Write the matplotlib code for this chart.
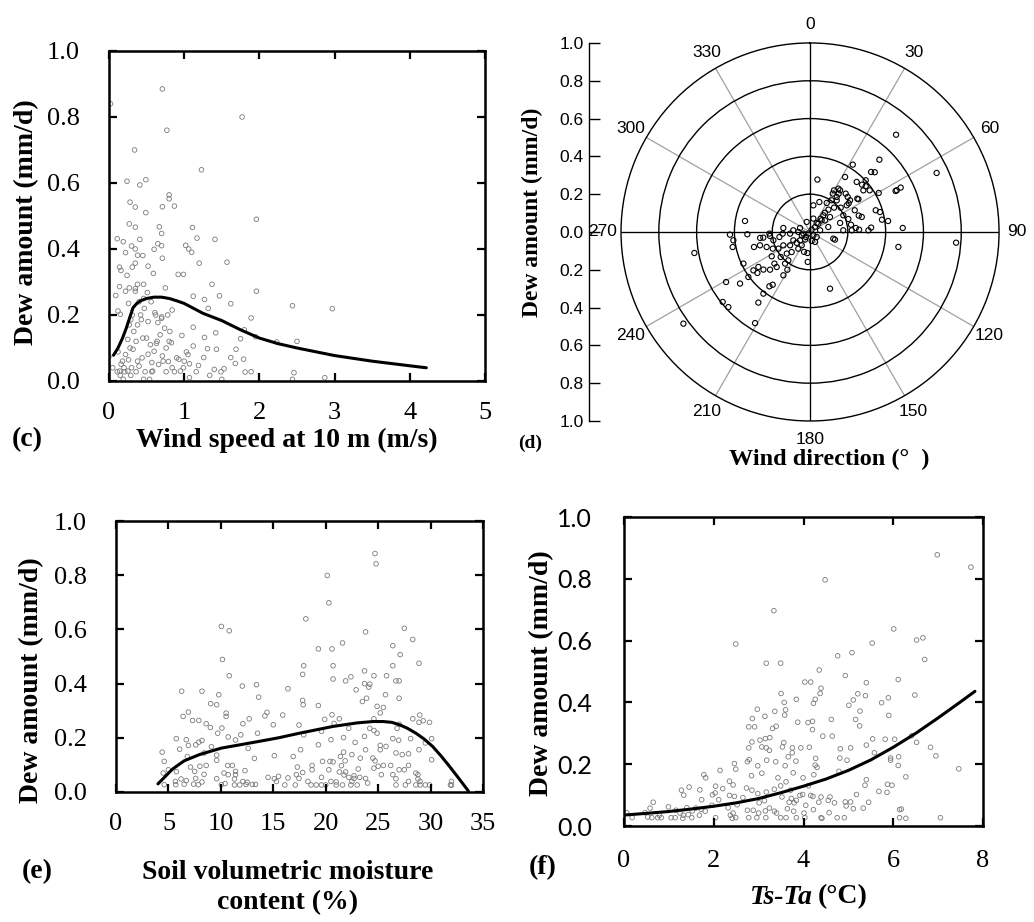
import matplotlib
matplotlib.use("Agg")
import matplotlib.pyplot as plt
import numpy as np

plt.rcParams['font.family'] = ['Liberation Serif', 'DejaVu Serif']

# (c) wind speed at 10 m (m/s) vs dew amount (mm/d)
wind = np.array([
    (0.02, 0.84), (0.71, 0.885), (1.77, 0.80), (0.77, 0.76), (0.34, 0.70), (1.23, 0.64), (0.49, 0.61),
    (0.24, 0.605), (0.41, 0.594), (0.80, 0.564), (0.80, 0.552), (0.28, 0.542), (0.35, 0.527), (0.71, 0.528),
    (0.87, 0.53), (0.49, 0.51), (1.96, 0.49), (0.27, 0.476), (0.35, 0.466), (0.67, 0.467), (1.11, 0.465),
    (0.70, 0.447), (0.11, 0.431), (0.41, 0.429), (0.19, 0.422), (1.17, 0.433), (1.41, 0.429), (0.65, 0.416),
    (0.70, 0.41), (0.30, 0.409), (1.02, 0.411), (0.35, 0.40), (0.45, 0.38), (1.06, 0.40), (1.10, 0.39),
    (0.60, 0.399), (0.22, 0.389), (0.71, 0.372), (0.38, 0.381), (1.57, 0.36), (1.20, 0.357), (0.35, 0.357),
    (0.14, 0.345), (0.31, 0.345), (0.52, 0.348), (0.16, 0.335), (0.59, 0.326), (0.24, 0.32), (0.92, 0.323),
    (0.99, 0.323), (1.37, 0.293), (0.38, 0.293), (0.46, 0.293), (0.14, 0.286), (0.27, 0.282), (0.75, 0.282),
    (0.22, 0.272), (0.35, 0.272), (1.96, 0.272), (0.09, 0.259), (1.12, 0.257), (1.47, 0.258), (0.51, 0.268),
    (1.27, 0.247), (0.26, 0.235), (1.62, 0.234), (2.44, 0.228), (2.97, 0.219), (1.32, 0.22), (0.12, 0.212),
    (0.84, 0.215), (0.15, 0.202), (0.61, 0.207), (0.70, 0.194), (1.89, 0.191), (0.29, 0.186), (0.43, 0.186),
    (0.65, 0.177), (1.12, 0.163), (1.80, 0.155), (0.81, 0.15), (1.42, 0.146), (0.97, 0.138), (1.27, 0.132),
    (1.95, 0.134), (2.50, 0.12), (2.23, 0.118), (1.75, 0.128), (0.25, 0.126), (0.45, 0.13), (0.83, 0.116),
    (0.63, 0.114), (1.12, 0.106), (1.69, 0.096), (1.31, 0.098), (1.43, 0.096), (0.32, 0.096), (0.12, 0.088),
    (1.03, 0.088), (0.52, 0.081), (0.71, 0.076), (1.62, 0.071), (0.00, 0.074), (1.26, 0.071), (0.26, 0.064),
    (1.79, 0.066), (0.93, 0.066), (0.57, 0.056), (0.79, 0.059), (1.07, 0.052), (0.16, 0.051), (1.68, 0.053),
    (1.19, 0.047), (0.40, 0.045), (0.05, 0.04), (0.99, 0.04), (1.40, 0.035), (1.53, 0.037), (1.81, 0.027),
    (1.89, 0.028), (2.46, 0.025), (0.11, 0.028), (0.21, 0.028), (0.36, 0.028), (0.48, 0.028), (0.57, 0.028),
    (0.76, 0.028), (0.87, 0.028), (1.16, 0.028), (1.49, 0.028), (1.34, 0.017), (1.07, 0.01), (2.87, 0.01),
    (2.44, 0.005), (1.50, 0.005), (0.46, 0.005), (0.19, 0.005), (0.54, 0.005), (0.29, 0.017), (0.15, 0.017),
    (0.18, 0.06), (0.22, 0.08), (0.28, 0.1), (0.33, 0.15), (0.38, 0.17), (0.42, 0.2), (0.47, 0.22),
    (0.5, 0.13), (0.55, 0.11), (0.6, 0.09), (0.64, 0.12), (0.68, 0.14), (0.72, 0.06), (0.76, 0.1),
    (0.8, 0.12), (0.84, 0.04), (0.3, 0.04), (0.25, 0.03), (0.2, 0.04), (0.14, 0.03), (0.38, 0.06),
    (0.44, 0.07), (0.58, 0.03), (0.66, 0.05), (0.74, 0.16), (0.36, 0.12), (0.31, 0.2), (0.46, 0.25),
    (0.56, 0.24), (0.52, 0.18), (0.62, 0.2), (0.7, 0.19), (0.78, 0.2), (0.9, 0.07), (1.0, 0.06),
    (1.05, 0.08), (0.95, 0.03), (0.4, 0.24), (0.27, 0.17), (0.35, 0.28)])
wind_fit = np.array([
    (0.06, 0.078), (0.12, 0.1), (0.18, 0.13), (0.23, 0.16), (0.28, 0.195), (0.32, 0.222), (0.37, 0.235),
    (0.42, 0.243), (0.5, 0.25), (0.6, 0.254), (0.7, 0.254), (0.8, 0.25), (0.9, 0.243), (1.0, 0.235),
    (1.25, 0.205), (1.5, 0.183), (1.75, 0.155), (2.0, 0.13), (2.25, 0.113), (2.5, 0.1), (3.0, 0.077),
    (3.5, 0.06), (4.0, 0.046), (4.22, 0.04)])

# (d) wind direction (deg) vs dew amount (mm/d)
wdir = np.array([
    (41.5, 0.687), (65.0, 0.739), (94.2, 0.775), (87.5, 0.491), (99.6, 0.474), (43.8, 0.53), (32.4, 0.422),
    (45.5, 0.453), (47.3, 0.466), (47.1, 0.402), (47.7, 0.372), (50.6, 0.381), (55.1, 0.385), (60.4, 0.418),
    (64.4, 0.502), (63.9, 0.534), (64.3, 0.509), (71.7, 0.366), (74.1, 0.385), (80.3, 0.386), (82.0, 0.417),
    (85.9, 0.324), (88.4, 0.309), (71.4, 0.272), (73.8, 0.285), (87.3, 0.26), (71.3, 0.214), (79.9, 0.22),
    (64.1, 0.263), (54.8, 0.306), (55.9, 0.309), (53.4, 0.255), (47.1, 0.272), (42.9, 0.277), (32.5, 0.345),
    (36.8, 0.253), (29.9, 0.254), (30.6, 0.236), (33.2, 0.274), (37.3, 0.233), (51.6, 0.207), (73.3, 0.166),
    (87.1, 0.176), (106.0, 0.128), (107.0, 0.138), (160.6, 0.318), (8.0, 0.28), (17.3, 0.166), (7.1, 0.142),
    (29.9, 0.177), (37.8, 0.129), (38.7, 0.09), (36.5, 0.059), (53.1, 0.132), (74.7, 0.1), (80.5, 0.054),
    (341.6, 0.056), (278.5, 0.143), (135.0, 0.025), (153.0, 0.059), (187.0, 0.112), (184.4, 0.159),
    (196.7, 0.11), (279.6, 0.349), (268.1, 0.424), (263.8, 0.408), (259.0, 0.417), (267.9, 0.332),
    (259.7, 0.622), (234.1, 0.827), (239.2, 0.517), (231.3, 0.592), (227.4, 0.587), (233.6, 0.46),
    (244.6, 0.39), (233.9, 0.404), (211.1, 0.563), (216.2, 0.463), (217.1, 0.409), (216.8, 0.359),
    (215.3, 0.342), (235.9, 0.362), (232.1, 0.353), (231.1, 0.317), (226.7, 0.291), (235.9, 0.33),
    (228.4, 0.252), (223.6, 0.256), (211.6, 0.269), (211.0, 0.233), (218.3, 0.213), (217.4, 0.189),
    (229.6, 0.204), (237.6, 0.24), (245.9, 0.216), (250.9, 0.243), (255.1, 0.274), (255.0, 0.307),
    (263.2, 0.266), (263.1, 0.249), (267.7, 0.215), (260.7, 0.164), (243.4, 0.158), (236.3, 0.127),
    (222.5, 0.144), (243.4, 0.099), (230.5, 0.091), (230.2, 0.069), (248.2, 0.047), (275.7, 0.089),
    (265.2, 0.106), (270.0, 0.062), (218.7, 0.034), (225.0, 0.012), (35.5, 0.015), (45.0, 0.037),
    (45.0, 0.062), (45.0, 0.087), (38.7, 0.113), (39.4, 0.153), (44.6, 0.181), (40.1, 0.219), (54.0, 0.24),
    (51.6, 0.27), (63.4, 0.197), (87.7, 0.221), (85.0, 0.243), (52.0, 0.358), (43.0, 0.362), (35.8, 0.272),
    (34.4, 0.203), (52.1, 0.1), (14.0, 0.073), (266.5, 0.145), (257.2, 0.199), (227.1, 0.168),
    (215.0, 0.108), (212.0, 0.083), (256.0, 0.036), (291.8, 0.057), (213.0, 0.048), (264.3, 0.213),
    (242.2, 0.189), (169.5, 0.048), (126.9, 0.044)])

# (e) soil volumetric moisture content (%) vs dew amount
soil = np.array([
    (24.7, 0.88), (24.8, 0.842), (20.15, 0.799), (20.3, 0.698), (18.1, 0.639), (10.05, 0.611), (10.8, 0.595),
    (27.5, 0.604), (23.8, 0.591), (28.3, 0.563), (21.6, 0.55), (26.4, 0.54), (19.3, 0.528), (20.6, 0.528),
    (27.1, 0.507), (10.15, 0.489), (28.9, 0.475), (17.9, 0.466), (20.7, 0.466), (26.4, 0.466), (23.7, 0.447),
    (17.8, 0.434), (24.6, 0.429), (25.8, 0.429), (10.8, 0.429), (22.4, 0.425), (26.7, 0.41), (27.0, 0.41),
    (20.7, 0.417), (21.9, 0.41), (24.2, 0.398), (12.05, 0.391), (13.4, 0.396), (23.7, 0.4), (24.1, 0.387),
    (16.4, 0.381), (22.9, 0.377), (6.26, 0.372), (8.2, 0.372), (9.8, 0.359), (23.9, 0.346), (13.6, 0.35),
    (27.0, 0.346), (23.5, 0.334), (17.8, 0.338), (17.85, 0.322), (9.03, 0.326), (9.6, 0.322), (19.3, 0.319),
    (24.9, 0.316), (25.5, 0.312), (25.2, 0.292), (25.7, 0.359), (6.9, 0.295), (14.4, 0.294), (10.5, 0.291),
    (20.6, 0.285), (15.9, 0.284), (28.97, 0.284), (14.2, 0.281), (6.4, 0.279), (10.5, 0.279), (28.3, 0.27),
    (21.3, 0.27), (19.9, 0.268), (12.7, 0.27), (24.6, 0.27), (7.3, 0.264), (7.9, 0.264), (29.9, 0.257),
    (28.9, 0.257), (29.3, 0.263), (20.8, 0.253), (12.1, 0.252), (17.45, 0.247), (8.6, 0.252), (15.0, 0.248),
    (27.0, 0.25), (9.0, 0.238), (22.2, 0.235), (24.2, 0.235), (26.8, 0.235), (10.1, 0.236), (24.6, 0.227),
    (5.75, 0.197), (19.6, 0.224), (24.9, 0.217), (23.7, 0.205), (17.9, 0.211), (9.7, 0.217), (21.7, 0.201),
    (10.7, 0.203), (11.9, 0.211), (13.5, 0.217), (6.7, 0.193), (26.4, 0.197), (20.5, 0.193), (30.1, 0.197),
    (11.4, 0.192), (26.96, 0.191), (28.1, 0.197), (7.9, 0.184), (22.8, 0.183), (29.5, 0.181), (8.2, 0.19),
    (19.3, 0.174), (7.6, 0.174), (6.9, 0.172), (25.2, 0.172), (9.1, 0.167), (25.75, 0.168), (12.6, 0.161),
    (17.6, 0.156), (6.07, 0.158), (23.8, 0.156), (25.2, 0.156), (28.9, 0.156), (4.4, 0.147), (8.4, 0.144),
    (21.7, 0.147), (16.9, 0.131), (15.1, 0.134), (22.5, 0.138), (26.7, 0.144), (27.3, 0.138), (27.9, 0.141),
    (24.5, 0.125), (21.4, 0.131), (23.3, 0.125), (13.2, 0.124), (6.8, 0.131), (9.6, 0.136), (9.6, 0.117),
    (30.1, 0.119), (21.85, 0.115), (19.7, 0.113), (20.4, 0.113), (20.7, 0.111), (24.7, 0.115), (4.6, 0.113),
    (25.5, 0.098), (25.0, 0.095), (26.2, 0.098), (17.3, 0.092), (18.7, 0.098), (21.5, 0.097), (23.1, 0.085),
    (27.9, 0.098), (10.65, 0.098), (11.1, 0.098), (8.0, 0.095), (8.6, 0.098), (7.1, 0.092), (24.6, 0.088),
    (5.0, 0.082), (11.4, 0.076), (18.7, 0.082), (20.3, 0.082), (21.3, 0.074), (21.9, 0.074), (27.0, 0.082),
    (27.5, 0.082), (26.4, 0.064), (12.3, 0.079), (4.5, 0.07), (5.76, 0.075), (7.5, 0.076), (10.3, 0.07),
    (17.8, 0.072), (17.2, 0.064), (28.6, 0.07), (25.3, 0.064), (21.75, 0.063), (22.7, 0.06), (10.7, 0.064),
    (11.4, 0.064), (28.8, 0.064), (8.4, 0.065), (22.7, 0.05), (22.2, 0.054), (23.25, 0.054), (23.8, 0.05),
    (6.2, 0.048), (7.6, 0.05), (9.6, 0.049), (11.3, 0.048), (14.5, 0.054), (15.5, 0.058), (15.1, 0.049),
    (16.4, 0.052), (17.45, 0.05), (19.6, 0.054), (26.7, 0.049), (28.8, 0.048), (5.66, 0.039), (6.7, 0.042),
    (8.2, 0.037), (10.4, 0.031), (12.1, 0.039), (12.5, 0.036), (15.3, 0.039), (18.3, 0.039), (20.5, 0.039),
    (21.0, 0.037), (22.5, 0.039), (24.0, 0.033), (27.9, 0.039), (29.0, 0.039), (32.0, 0.039), (4.6, 0.027),
    (5.7, 0.027), (6.5, 0.029), (7.4, 0.029), (7.85, 0.027), (10.05, 0.027), (11.3, 0.026), (11.8, 0.026),
    (12.4, 0.028), (13.0, 0.028), (13.3, 0.028), (16.1, 0.026), (17.1, 0.026), (18.6, 0.026), (19.1, 0.026),
    (19.6, 0.026), (20.0, 0.026), (21.0, 0.026), (21.6, 0.026), (22.4, 0.026), (23.0, 0.026), (26.7, 0.026),
    (27.6, 0.026), (28.6, 0.026), (29.0, 0.026), (29.9, 0.026), (29.5, 0.026), (31.9, 0.026), (32.0, 0.025)])
soil_fit = np.array([
    (4.0, 0.03), (5.4, 0.085), (6.5, 0.115), (7.95, 0.138), (10.05, 0.162), (13.1, 0.183), (15.5, 0.2),
    (17.5, 0.217), (20.7, 0.242), (23.0, 0.255), (24.5, 0.26), (25.5, 0.26), (26.3, 0.257), (27.05, 0.248),
    (27.8, 0.235), (28.6, 0.217), (29.4, 0.195), (30.2, 0.168), (31.0, 0.133), (31.8, 0.095), (32.7, 0.05),
    (33.6, 0.004)])

# (f) Ts-Ta (degC) vs dew amount
dts = np.array([
    (6.98, 0.878), (7.73, 0.838), (4.48, 0.797), (3.34, 0.697), (6.01, 0.638), (2.49, 0.589), (6.52, 0.602),
    (6.66, 0.609), (5.53, 0.592), (6.70, 0.539), (3.17, 0.527), (3.49, 0.527), (4.76, 0.551), (5.08, 0.561),
    (4.35, 0.505), (4.93, 0.487), (4.03, 0.466), (4.16, 0.466), (5.40, 0.464), (6.11, 0.474), (4.39, 0.446),
    (4.37, 0.429), (3.50, 0.429), (5.21, 0.428), (6.48, 0.424), (5.38, 0.422), (4.26, 0.41), (3.84, 0.41),
    (5.11, 0.408), (5.74, 0.399), (5.89, 0.415), (3.57, 0.40), (4.22, 0.397), (5.01, 0.391), (2.97, 0.378),
    (3.60, 0.376), (3.36, 0.371), (5.26, 0.372), (3.58, 0.359), (5.90, 0.358), (3.14, 0.355), (5.16, 0.345),
    (4.62, 0.345), (3.87, 0.336), (4.10, 0.335), (5.25, 0.324), (2.78, 0.321), (2.91, 0.321), (3.39, 0.323),
    (3.31, 0.316), (4.20, 0.312), (2.86, 0.348), (4.20, 0.339), (4.64, 0.291), (4.43, 0.291), (6.41, 0.292),
    (3.25, 0.286), (3.15, 0.283), (3.03, 0.278), (2.85, 0.272), (5.54, 0.282), (6.03, 0.281), (5.82, 0.281),
    (6.52, 0.271), (5.40, 0.262), (3.56, 0.270), (3.53, 0.256), (3.07, 0.256), (3.17, 0.253), (3.75, 0.253),
    (3.94, 0.253), (4.13, 0.255), (5.05, 0.253), (3.24, 0.245), (2.78, 0.253), (6.83, 0.255), (4.82, 0.25),
    (5.58, 0.237), (3.75, 0.237), (4.27, 0.219), (6.12, 0.224), (6.95, 0.227), (3.66, 0.224), (4.81, 0.22),
    (5.94, 0.22), (2.79, 0.215), (2.75, 0.208), (4.97, 0.213), (5.94, 0.213), (2.46, 0.202), (3.83, 0.21),
    (4.26, 0.197), (3.59, 0.195), (2.98, 0.195), (3.18, 0.213), (3.38, 0.208), (6.11, 0.196), (7.46, 0.185),
    (2.14, 0.18), (2.49, 0.184), (4.30, 0.19), (3.07, 0.171), (4.79, 0.177), (3.77, 0.172), (4.23, 0.166),
    (2.84, 0.163), (1.78, 0.166), (1.82, 0.156), (6.28, 0.159), (3.43, 0.156), (3.99, 0.156), (5.40, 0.15),
    (3.61, 0.143), (3.49, 0.13), (1.45, 0.126), (2.35, 0.145), (2.43, 0.133), (2.04, 0.129), (1.28, 0.116),
    (5.87, 0.135), (5.97, 0.132), (5.37, 0.132), (1.69, 0.117), (2.20, 0.121), (2.73, 0.123), (2.85, 0.116),
    (3.35, 0.119), (3.71, 0.116), (4.11, 0.13), (5.68, 0.112), (1.33, 0.1), (2.03, 0.107), (3.17, 0.11),
    (2.98, 0.105), (3.92, 0.099), (3.98, 0.102), (4.16, 0.099), (4.59, 0.094), (5.18, 0.102), (5.86, 0.109),
    (1.97, 0.101), (2.35, 0.099), (2.46, 0.096), (2.65, 0.092), (3.52, 0.094), (4.21, 0.096), (4.39, 0.094),
    (3.73, 0.089), (1.73, 0.085), (2.11, 0.085), (3.13, 0.082), (3.84, 0.083), (4.55, 0.083), (4.69, 0.075),
    (4.93, 0.078), (5.45, 0.077), (0.65, 0.077), (3.01, 0.075), (3.68, 0.077), (3.79, 0.075), (4.34, 0.077),
    (5.05, 0.078), (1.96, 0.067), (2.52, 0.069), (4.95, 0.065), (0.58, 0.058), (0.99, 0.062), (1.40, 0.059),
    (1.60, 0.058), (2.32, 0.059), (3.24, 0.058), (3.64, 0.056), (4.05, 0.067), (5.11, 0.056), (5.33, 0.058),
    (6.14, 0.053), (2.75, 0.051), (2.88, 0.051), (3.35, 0.048), (1.16, 0.051), (1.52, 0.049), (1.72, 0.054),
    (1.81, 0.048), (3.15, 0.049), (3.78, 0.048), (4.22, 0.053), (0.06, 0.043), (0.47, 0.043), (1.25, 0.042),
    (1.43, 0.037), (2.43, 0.042), (3.00, 0.042), (3.40, 0.042), (4.01, 0.042), (4.57, 0.043), (2.37, 0.035),
    (1.32, 0.035), (1.68, 0.035), (0.79, 0.035), (0.53, 0.029), (0.18, 0.027), (0.62, 0.027), (0.75, 0.027),
    (0.83, 0.027), (1.05, 0.027), (1.14, 0.027), (1.31, 0.025), (1.51, 0.027), (2.04, 0.027), (2.41, 0.025),
    (2.49, 0.027), (2.78, 0.027), (2.96, 0.027), (3.16, 0.027), (3.49, 0.027), (3.61, 0.027), (3.84, 0.027),
    (4.03, 0.027), (4.39, 0.027), (4.75, 0.027), (4.91, 0.027), (6.14, 0.027), (6.28, 0.025), (7.05, 0.027),
    (4.41, 0.025), (6.18, 0.055)])
dts_fit = np.array([
    (0.05, 0.036), (0.5, 0.041), (1.0, 0.047), (1.5, 0.055), (2.0, 0.064), (2.5, 0.075), (3.0, 0.089),
    (3.5, 0.108), (4.0, 0.129), (4.5, 0.152), (5.0, 0.18), (5.5, 0.214), (6.0, 0.255), (6.5, 0.3),
    (7.0, 0.35), (7.5, 0.402), (7.82, 0.436)])

grey = '#7a7a7a'
fig = plt.figure(figsize=(10.34, 9.22), dpi=100)


def frame(ax, xlim, xticks, xpad, ypad, yfont='Liberation Serif', ysize=19):
    ax.set_xlim(*xlim)
    ax.set_ylim(0, 1)
    ax.set_xticks(xticks)
    ax.set_xticklabels([str(t) for t in xticks])
    yt = [0, 0.2, 0.4, 0.6, 0.8, 1.0]
    ax.set_yticks(yt)
    ax.set_yticklabels(['%.1f' % t for t in yt], fontfamily=yfont, fontsize=ysize)
    ax.tick_params(direction='in', top=True, right=True, length=6, width=1.6)
    ax.tick_params(axis='x', labelsize=19, pad=xpad)
    ax.tick_params(axis='y', pad=ypad)
    for s in ax.spines.values():
        s.set_linewidth(1.8)


def dots(ax, pts, fit):
    ax.scatter(pts[:, 0], pts[:, 1], s=11, facecolors='none', edgecolors=grey, linewidths=0.6)
    ax.plot(fit[:, 0], fit[:, 1], color='k', lw=2.2, solid_capstyle='round')


# panel (c)
axc = fig.add_axes([0.1054, 0.5868, 0.3636, 0.3579])
dots(axc, wind, wind_fit)
frame(axc, (0, 5), [0, 1, 2, 3, 4, 5], 15, 21)
fig.text(0.0261, 0.7592, 'Dew amount (mm/d)', rotation=90, ha='center', va='center',
         fontsize=20, fontweight='bold')
fig.text(0.2776, 0.5228, 'Wind speed at 10 m (m/s)', ha='center', va='center',
         fontsize=20, fontweight='bold')
fig.text(0.0116, 0.5228, '(c)', ha='left', va='center', fontsize=20, fontweight='bold')

# panel (d) polar
axd = fig.add_axes([0.6006, 0.5434, 0.3656, 0.41], projection='polar')
axd.set_theta_zero_location('N')
axd.set_theta_direction(-1)
axd.set_ylim(0, 1)
axd.set_yticks([0.2, 0.4, 0.6, 0.8])
axd.set_yticklabels([])
angles = list(range(0, 360, 30))
axd.set_xticks(np.deg2rad(angles))
axd.set_xticklabels([str(a) for a in angles], fontfamily='Liberation Sans', fontsize=12.5)
axd.set_xticks(np.deg2rad(np.arange(15, 360, 30)), minor=True)
axd.tick_params(axis='x', which='major', length=0, pad=6)
axd.tick_params(axis='x', which='minor', length=5, direction='in', width=0.8)
axd.yaxis.grid(True, color='k', lw=1.0)
axd.xaxis.grid(True, color='#a0a0a0', lw=0.9)
axd.vlines(np.deg2rad([0, 90, 180, 270]), 0, 1, colors='k', lw=0.9)
axd.spines['polar'].set_linewidth(1.0)
axd.scatter(np.deg2rad(wdir[:, 0]), wdir[:, 1], s=14, facecolors='none', edgecolors='k',
            linewidths=0.8, zorder=3)

axr = fig.add_axes([0.5696, 0.5434, 0.0001, 0.41])
axr.patch.set_visible(False)
axr.set_ylim(-1, 1)
rt = np.round(np.arange(-1, 1.01, 0.2), 1)
axr.set_yticks(rt)
axr.set_yticklabels(['%.1f' % abs(t) for t in rt], fontfamily='Liberation Sans', fontsize=12.5)
axr.set_xticks([])
for s in ['top', 'right', 'bottom']:
    axr.spines[s].set_visible(False)
axr.spines['left'].set_linewidth(1.0)
axr.tick_params(axis='y', direction='in', length=8, width=1.0, pad=4)
fig.text(0.5145, 0.770, 'Dew amount (mm/d)', rotation=90, ha='center', va='center',
         fontsize=17, fontweight='bold')
fig.text(0.8017, 0.5020, 'Wind direction (°  )', ha='center', va='center',
         fontsize=17.5, fontweight='bold')
fig.text(0.5126, 0.5195, '(d)', ha='center', va='center', fontsize=14, fontweight='bold')

# panel (e)
axe = fig.add_axes([0.1122, 0.1410, 0.3549, 0.2939])
dots(axe, soil, soil_fit)
frame(axe, (0, 35), [0, 5, 10, 15, 20, 25, 30, 35], 15, 21)
fig.text(0.0309, 0.2625, 'Dew amount (mm/d)', rotation=90, ha='center', va='center',
         fontsize=20, fontweight='bold')
fig.text(0.2785, 0.0542, 'Soil volumetric moisture', ha='center', va='center',
         fontsize=20, fontweight='bold')
fig.text(0.2785, 0.0206, 'content (%)', ha='center', va='center', fontsize=20, fontweight='bold')
fig.text(0.0358, 0.0542, '(e)', ha='center', va='center', fontsize=20, fontweight='bold')

# panel (f)
axf = fig.add_axes([0.6035, 0.1041, 0.3472, 0.3351])
dots(axf, dts, dts_fit)
frame(axf, (0, 8), [0, 2, 4, 6, 8], 17, 23, yfont='Lato', ysize=18)
fig.text(0.5242, 0.2701, 'Dew amount (mm/d)', rotation=90, ha='center', va='center',
         fontsize=20, fontweight='bold')
fig.text(0.7863, 0.0271, 'Ts-Ta', ha='right', va='center', fontsize=20, fontweight='bold',
         fontstyle='italic')
fig.text(0.7911, 0.0271, '(°C)', ha='left', va='center', fontsize=20, fontweight='bold')
fig.text(0.5251, 0.0586, '(f)', ha='center', va='center', fontsize=20, fontweight='bold')

fig.savefig('out.png', dpi=100)
